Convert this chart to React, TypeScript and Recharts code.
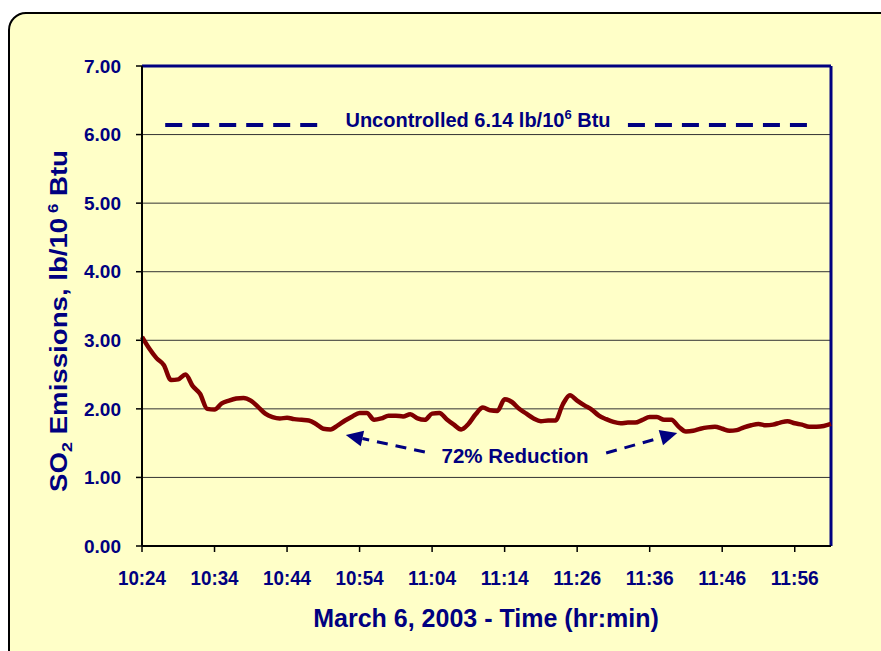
import { LineChart, Line, XAxis, YAxis, CartesianGrid, ReferenceLine } from "recharts";

const timeLabels = ["10:24", "10:34", "10:44", "10:54", "11:04", "11:14", "11:26", "11:36", "11:46", "11:56"];
const timeTicks = [0, 10, 20, 30, 40, 50, 60, 70, 80, 90];
const yTicks = [0, 1, 2, 3, 4, 5, 6, 7];
const uncontrolled = 6.14;

// SO2, lb/10^6 Btu, one reading per sample
const so2 = [
  3.05, 2.88, 2.74, 2.64, 2.42, 2.43, 2.5, 2.33, 2.22, 2.0,
  1.99, 2.08, 2.12, 2.15, 2.16, 2.12, 2.03, 1.93, 1.88, 1.86,
  1.87, 1.85, 1.84, 1.83, 1.78, 1.71, 1.7, 1.76, 1.83, 1.89,
  1.94, 1.94, 1.84, 1.86, 1.9, 1.9, 1.89, 1.92, 1.86, 1.84,
  1.93, 1.94, 1.85, 1.77, 1.7, 1.78, 1.92, 2.02, 1.98, 1.97,
  2.14, 2.1, 2.0, 1.93, 1.86, 1.82, 1.83, 1.83, 2.06, 2.2,
  2.12, 2.05, 1.99, 1.9, 1.85, 1.81, 1.79, 1.8, 1.8, 1.84,
  1.88, 1.88, 1.84, 1.84, 1.74, 1.67, 1.68, 1.71, 1.73, 1.74,
  1.71, 1.68, 1.69, 1.73, 1.76, 1.78, 1.76, 1.77, 1.8, 1.82,
  1.79, 1.77, 1.74, 1.74, 1.75, 1.78,
];

const data = so2.map((v, i) => ({ i, so2: v }));

const NAVY = "#000080";

const Arrow = (p: any) => {
  const { x1, y1, x2, y2 } = p;
  const dx = x2 - x1;
  const dy = y2 - y1;
  const len = Math.hypot(dx, dy) || 1;
  const ux = dx / len;
  const uy = dy / len;
  const head = 17;
  const half = 8;
  const bx = x2 - ux * head;
  const by = y2 - uy * head;
  const px = -uy;
  const py = ux;
  return (
    <g>
      <line x1={x1} y1={y1} x2={bx} y2={by} stroke={NAVY} strokeWidth={3} strokeDasharray="11 8" />
      <polygon
        points={`${x2},${y2} ${bx + px * half},${by + py * half} ${bx - px * half},${by - py * half}`}
        fill={NAVY}
      />
    </g>
  );
};

// x labels look tall and narrow in the original
const TimeTick = (p: any) => {
  const { x, y, payload } = p;
  return (
    <text
      x={x}
      y={y + 16}
      textAnchor="middle"
      fontSize={21}
      fontWeight={700}
      fill={NAVY}
      textLength={48}
      lengthAdjust="spacingAndGlyphs"
    >
      {timeLabels[payload.value / 10]}
    </text>
  );
};

export default function App() {
  return (
    <div
      style={{
        position: "fixed",
        left: 0,
        top: 0,
        width: 881,
        height: 651,
        overflow: "hidden",
        background: "#fff",
        fontFamily: "Arial, 'Liberation Sans', sans-serif",
      }}
    >
      <div
        style={{
          position: "absolute",
          left: 8,
          top: 12,
          width: 900,
          height: 700,
          border: "2px solid #000",
          borderRadius: 18,
          background: "#FFFFC8",
        }}
      />
      <div style={{ position: "absolute", left: 0, top: 0 }}>
        <LineChart width={881} height={651} data={data} margin={{ top: 66, right: 50, bottom: 55, left: 0 }}>
          <CartesianGrid vertical={false} stroke="#333" strokeWidth={1} />
          <XAxis
            dataKey="i"
            type="number"
            domain={[0, 95]}
            ticks={timeTicks}
            height={50}
            tickSize={6}
            tickMargin={17}
            axisLine={{ stroke: "#000", strokeWidth: 2 }}
            tickLine={{ stroke: "#000", strokeWidth: 1.5 }}
            tick={<TimeTick />}
          />
          <YAxis
            domain={[0, 7]}
            ticks={yTicks}
            width={142}
            tickFormatter={(v: number) => v.toFixed(2)}
            tickSize={6}
            tickMargin={15}
            axisLine={{ stroke: "#000", strokeWidth: 2 }}
            tickLine={{ stroke: "#000", strokeWidth: 1.5 }}
            tick={{ fill: NAVY, fontSize: 19, fontWeight: 700 }}
          />
          <ReferenceLine y={7} stroke={NAVY} strokeWidth={3} />
          <ReferenceLine x={95} stroke={NAVY} strokeWidth={3} />
          <ReferenceLine
            segment={[{ x: 3.2, y: uncontrolled }, { x: 24.8, y: uncontrolled }]}
            stroke={NAVY}
            strokeWidth={4}
            strokeDasharray="17 10"
          />
          <ReferenceLine
            segment={[{ x: 67, y: uncontrolled }, { x: 92, y: uncontrolled }]}
            stroke={NAVY}
            strokeWidth={4}
            strokeDasharray="17 10"
          />
          <ReferenceLine segment={[{ x: 39, y: 1.37 }, { x: 28.1, y: 1.62 }]} shape={Arrow} />
          <ReferenceLine segment={[{ x: 64, y: 1.356 }, { x: 73.8, y: 1.648 }]} shape={Arrow} />
          <Line
            type="monotone"
            dataKey="so2"
            stroke="#800000"
            strokeWidth={4.5}
            dot={false}
            isAnimationActive={false}
          />
        </LineChart>
      </div>
      <svg
        width={881}
        height={651}
        style={{ position: "absolute", left: 0, top: 0, pointerEvents: "none" }}
      >
        <text x={478} y={127} textAnchor="middle" fontSize={20} fontWeight={700} fill={NAVY}>
          Uncontrolled 6.14 lb/10
          <tspan fontSize={13} dy={-8}>6</tspan>
          <tspan dy={8}> Btu</tspan>
        </text>
        <text x={515} y={463} textAnchor="middle" fontSize={20.5} fontWeight={700} fill={NAVY}>
          72% Reduction
        </text>
        <text
          transform="translate(67,321) rotate(-90)"
          textAnchor="middle"
          fontSize={23}
          fontWeight={700}
          fill={NAVY}
          textLength={342}
          lengthAdjust="spacingAndGlyphs"
        >
          SO
          <tspan fontSize={15} dy={5}>2</tspan>
          <tspan dy={-5}> Emissions, lb/10</tspan>
          <tspan fontSize={14} dy={-9}> 6</tspan>
          <tspan dy={9}> Btu</tspan>
        </text>
        <text x={486} y={627} textAnchor="middle" fontSize={25} fontWeight={700} fill={NAVY}>
          March 6, 2003 - Time (hr:min)
        </text>
      </svg>
    </div>
  );
}
